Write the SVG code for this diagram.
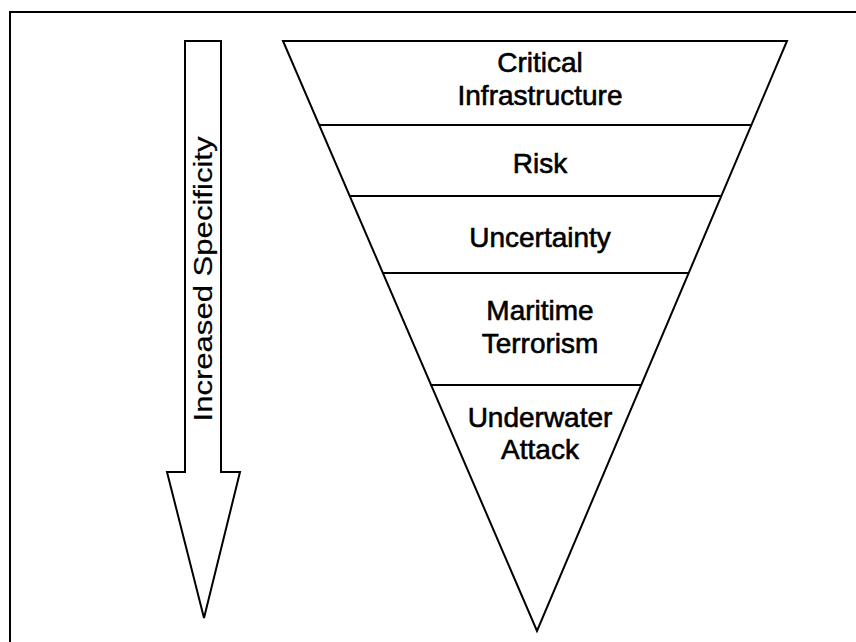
<svg xmlns="http://www.w3.org/2000/svg" width="856" height="642" viewBox="0 0 856 642">
<style>
.ln{fill:none;stroke:#000;stroke-width:2;stroke-linejoin:miter}
.lbl{font-family:"Liberation Sans",Arial,sans-serif;font-size:28px;fill:#000;text-anchor:middle;stroke:#000;stroke-width:0.6}
.arr{font-family:"Liberation Sans",Arial,sans-serif;font-size:25px;fill:#000;text-anchor:middle;stroke:#000;stroke-width:0.2}
</style>
<rect width="856" height="642" fill="#fff"/>
<g id="frame"><path class="ln" d="M10,660 L10,12 L870,12"/></g>
<g id="arrow">
<path class="ln" d="M185,41 L221,41 L221,472 L240,472 L204,618 L167,472 L185,472 Z"/>
<text class="arr" transform="translate(212,279) rotate(-90)" textLength="285" lengthAdjust="spacingAndGlyphs">Increased Specificity</text>
</g>
<g id="pyramid">
<path class="ln" d="M283,41 L787,41 L537,631 Z"/>
</g>
<g id="connectors">
<line class="ln" x1="319" y1="125" x2="752" y2="125"/>
<line class="ln" x1="349" y1="196" x2="722" y2="196"/>
<line class="ln" x1="382" y1="273" x2="689" y2="273"/>
<line class="ln" x1="430" y1="385" x2="641" y2="385"/>
</g>
<g id="n1"><text class="lbl" x="540" y="72">Critical</text><text class="lbl" x="540" y="105">Infrastructure</text></g>
<g id="n2"><text class="lbl" x="540" y="173">Risk</text></g>
<g id="n3"><text class="lbl" x="540" y="247">Uncertainty</text></g>
<g id="n4"><text class="lbl" x="540" y="320">Maritime</text><text class="lbl" x="540" y="353">Terrorism</text></g>
<g id="n5"><text class="lbl" x="540" y="427">Underwater</text><text class="lbl" x="540" y="459">Attack</text></g>
</svg>
